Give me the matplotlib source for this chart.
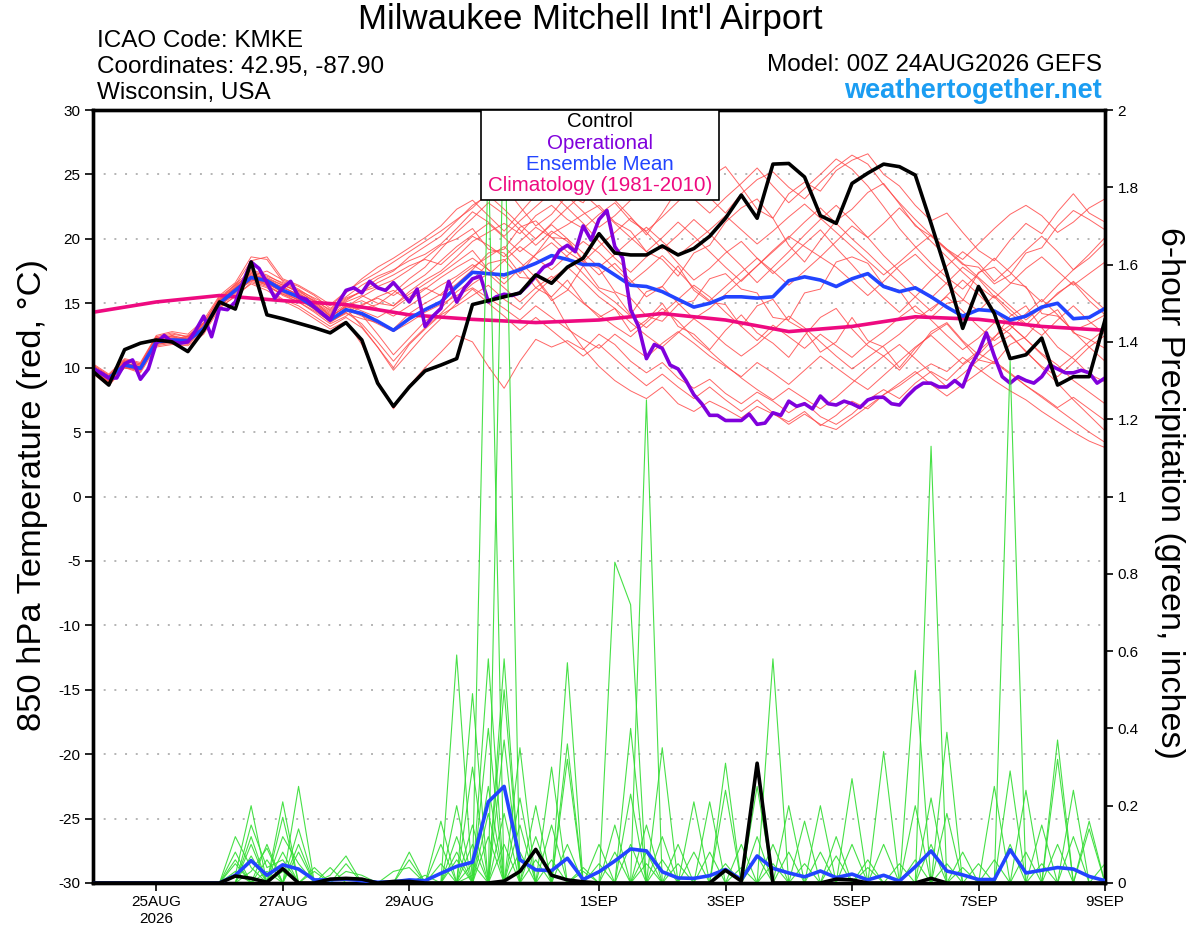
import numpy as np
import matplotlib
matplotlib.use('Agg')
import matplotlib.pyplot as plt
from matplotlib.patches import Rectangle

plt.rcParams['font.family'] = ['Liberation Sans', 'DejaVu Sans']

# 6-hourly steps from 00Z 24AUG2026 (65 values), operational run is 3-hourly (129 values)
control_temp = [9.7, 8.65, 11.4, 11.9, 12.15, 12.0, 11.25, 12.9, 15.1, 14.55,
                18.2, 14.1, 13.8, 13.45, 13.1, 12.7, 13.5, 12.15, 8.8, 7.0,
                8.5, 9.75, 10.2, 10.7, 14.9, 15.2, 15.5, 15.8, 17.2, 16.55,
                17.8, 18.5, 20.4, 18.9, 18.75, 18.75, 19.45, 18.75, 19.25, 20.2,
                21.6, 23.4, 21.6, 25.8, 25.85, 24.8, 21.8, 21.2, 24.3, 25.1,
                25.8, 25.6, 24.95, 21.2, 17.3, 13.05, 16.3, 14.2, 10.7, 11.0,
                12.3, 8.65, 9.3, 9.3, 13.7]

mean_temp = [9.95, 9.2, 10.2, 9.95, 12.0, 12.15, 12.1, 13.05, 15.0, 16.0,
             17.0, 16.75, 16.0, 15.5, 14.7, 13.7, 14.5, 14.2, 13.6, 12.9,
             13.8, 14.5, 15.1, 16.3, 17.4, 17.3, 17.2, 17.6, 18.1, 18.7,
             18.4, 18.0, 18.0, 17.2, 16.4, 16.3, 15.9, 15.3, 14.7, 15.0,
             15.5, 15.5, 15.4, 15.5, 16.75, 17.05, 16.8, 16.3, 16.9, 17.3,
             16.3, 15.9, 16.2, 15.5, 14.7, 14.0, 14.5, 14.4, 13.7, 14.0,
             14.7, 15.0, 13.8, 13.9, 14.6]

oper_temp = [9.9, 9.6, 9.2, 9.2, 10.3, 10.6, 9.1, 9.9, 11.9, 12.5,
             12.0, 11.9, 12.0, 12.9, 14.0, 12.4, 14.6, 14.5, 15.1, 16.7,
             18.2, 17.7, 16.6, 15.4, 16.2, 16.7, 15.5, 15.3, 14.7, 14.2,
             13.7, 15.0, 16.0, 16.2, 15.8, 16.7, 16.2, 16.0, 16.6, 15.9,
             15.1, 16.1, 13.2, 14.0, 14.6, 16.7, 15.1, 16.2, 16.9, 17.1,
             15.1, 15.5, 15.7, 15.6, 15.8, 16.4, 17.1, 17.8, 18.1, 19.1,
             19.5, 19.0, 21.0, 19.9, 21.5, 22.2, 19.4, 18.5, 14.5, 13.2,
             10.7, 11.8, 11.5, 10.2, 9.9, 9.0, 7.9, 7.2, 6.3, 6.3,
             5.9, 5.9, 5.9, 6.4, 5.6, 5.7, 6.5, 6.3, 7.4, 7.0,
             7.2, 6.8, 7.8, 7.2, 7.1, 7.4, 7.2, 6.9, 7.5, 7.7,
             7.7, 7.2, 7.1, 7.8, 8.4, 8.8, 8.8, 8.5, 8.5, 9.0,
             8.5, 10.1, 11.2, 12.7, 10.9, 9.3, 8.8, 9.3, 9.0, 8.8,
             9.3, 10.2, 9.9, 9.6, 9.6, 9.8, 9.6, 8.8, 9.2]

# daily 1981-2010 climatology, 24AUG .. 9SEP
clim_temp = [14.3, 15.1, 15.6, 15.2, 14.9, 14.1, 13.75, 13.5, 13.7,
             14.2, 13.7, 12.8, 13.2, 13.95, 13.75, 13.2, 12.9]

member_temp = [
    [9.8, 8.9, 10.5, 10.2, 12.3, 12.6, 12.4, 13.5, 15.4, 16.2, 17.6,
     17.2, 16.5, 15.8, 15.0, 14.2, 15.1, 15.6, 15.0, 14.8, 15.9, 16.8, 17.5, 18.6,
     19.8, 20.5, 21.2, 20.4, 21.8, 22.6, 21.5, 20.8, 21.9, 22.8, 21.4, 20.6, 21.7, 22.9, 24.1, 23.2, 22.0,
     23.5, 24.6, 25.2, 24.0, 23.1, 24.4, 25.6, 26.5, 25.8, 24.2, 22.8, 21.5, 20.3, 19.2, 18.4, 19.6, 20.8, 21.9, 22.6, 21.8, 20.5, 21.3, 22.4, 23.1],
    [9.6, 8.7, 10.0, 9.6, 11.6, 11.8, 11.7, 12.6, 14.6, 15.6, 16.5,
     16.0, 15.2, 14.6, 13.8, 13.0, 13.6, 11.8, 9.0, 6.8, 8.6, 10.0, 11.2, 12.5,
     12.0, 10.1, 8.4, 10.5, 12.2, 11.6, 12.1, 11.4, 12.6, 11.8, 10.5, 9.6, 10.4, 9.2, 8.4, 9.1, 8.0,
     7.2, 8.1, 7.4, 6.5, 7.3, 6.2, 5.6, 6.4, 7.5, 8.3, 7.6, 8.8, 9.7, 9.0, 10.2, 11.1, 10.4, 9.5, 8.6, 7.8, 6.9, 7.7, 6.8, 5.9],
    [10.1, 9.3, 10.4, 10.0, 12.2, 12.4, 12.0, 13.2, 15.2, 16.4, 17.3,
     16.9, 16.2, 15.7, 15.2, 14.0, 14.7, 14.6, 14.9, 15.8, 16.9, 17.8, 19.2, 20.5,
     21.6, 22.8, 21.9, 20.7, 19.5, 20.6, 19.8, 18.4, 17.2, 18.1, 16.8, 15.5, 16.3, 15.0, 13.8, 14.6, 15.7,
     16.8, 17.9, 19.1, 20.2, 19.4, 18.6, 19.8, 21.0, 20.1, 18.7, 17.5, 16.2, 15.4, 16.6, 17.8, 16.9, 15.5, 14.2, 13.3, 14.5, 15.8, 16.6, 15.2, 14.1],
    [9.9, 9.0, 10.1, 9.7, 11.8, 12.0, 12.2, 13.0, 14.8, 15.8, 16.8,
     16.6, 16.1, 15.4, 14.5, 13.6, 14.2, 13.8, 13.5, 13.0, 14.2, 15.0, 15.7, 16.9,
     17.8, 18.6, 19.4, 18.2, 17.0, 15.4, 13.2, 11.5, 10.1, 9.0, 8.2, 7.6, 8.5, 7.2, 6.6, 7.4, 6.8,
     6.1, 7.0, 6.4, 5.8, 6.6, 5.5, 6.3, 7.4, 6.8, 7.9, 8.6, 9.5, 10.3, 9.7, 10.8, 9.9, 9.0, 8.2, 7.5, 6.6, 5.8, 5.0, 4.3, 3.8],
    [10.2, 9.4, 10.6, 10.3, 12.4, 12.1, 12.5, 13.4, 15.1, 15.9, 17.1,
     17.5, 16.8, 16.3, 15.6, 14.6, 15.5, 16.4, 17.1, 17.6, 18.3, 18.8, 19.6, 20.8,
     22.1, 21.3, 20.2, 21.4, 22.5, 23.6, 22.4, 21.2, 19.8, 18.5, 17.4, 18.6, 19.5, 18.1, 16.8, 17.7, 18.9,
     19.8, 18.5, 17.3, 18.4, 19.6, 20.7, 19.3, 18.0, 16.6, 15.4, 14.3, 15.5, 16.8, 17.9, 19.0, 18.1, 16.7, 17.8, 19.1, 20.2, 19.0, 17.6, 18.5, 19.7],
    [9.7, 8.8, 10.3, 10.1, 11.9, 12.5, 11.9, 12.9, 15.3, 16.1, 16.9,
     16.4, 15.6, 15.1, 14.3, 13.4, 14.0, 14.8, 15.5, 16.0, 15.2, 16.1, 17.0, 17.8,
     18.5, 17.6, 16.5, 17.7, 18.8, 19.7, 18.6, 17.3, 16.0, 15.1, 14.0, 13.1, 14.2, 15.3, 16.4, 15.5, 14.3,
     13.2, 12.1, 13.3, 12.4, 11.5, 12.6, 11.7, 10.8, 11.9, 12.8, 13.9, 14.8, 13.7, 12.5, 11.4, 12.3, 13.5, 12.6, 11.2, 10.1, 9.3, 10.4, 11.6, 12.5],
    [10.0, 9.1, 10.2, 9.9, 12.1, 12.3, 12.2, 13.3, 15.0, 16.3, 17.4,
     17.0, 16.4, 16.0, 15.4, 14.8, 15.8, 16.9, 17.8, 18.5, 19.3, 20.1, 21.0, 22.3,
     23.0, 21.8, 20.6, 22.0, 23.4, 24.5, 23.3, 22.1, 20.9, 21.8, 23.0, 24.2, 25.3, 24.4, 23.1, 22.0, 23.2,
     24.3, 25.5, 24.1, 22.8, 23.9, 25.0, 26.2, 25.4, 24.1, 22.5, 20.8, 19.4, 18.1, 17.0, 16.1, 17.3, 18.5, 17.4, 16.2, 15.1, 16.4, 17.6, 18.8, 20.1],
    [9.5, 8.6, 10.0, 9.8, 11.7, 11.9, 11.8, 12.8, 14.7, 15.5, 16.6,
     16.2, 15.3, 14.8, 14.0, 13.2, 13.9, 13.1, 11.6, 10.0, 11.8, 13.0, 14.1, 14.8,
     15.6, 16.4, 15.3, 14.5, 15.8, 16.9, 17.8, 16.7, 15.5, 14.6, 13.5, 12.5, 11.6, 12.7, 13.8, 12.9, 11.8,
     10.9, 11.8, 12.9, 14.0, 13.1, 12.0, 10.9, 9.9, 10.8, 11.7, 12.6, 13.7, 14.6, 15.5, 14.4, 13.2, 12.1, 13.0, 14.2, 15.3, 14.1, 12.8, 11.6, 10.5],
    [10.3, 9.5, 10.7, 10.4, 12.5, 12.8, 12.6, 13.7, 15.6, 16.6, 18.6,
     18.4, 16.7, 16.1, 15.3, 14.4, 15.3, 15.9, 16.6, 17.2, 17.9, 18.4, 18.0, 19.1,
     20.2, 19.5, 18.6, 19.8, 20.9, 20.1, 19.0, 18.2, 19.4, 20.5, 21.6, 20.5, 19.2, 20.3, 21.5, 20.4, 19.1,
     17.9, 16.6, 17.8, 19.0, 20.3, 21.5, 22.6, 21.4, 20.1, 21.2, 22.4, 21.1, 19.8, 18.6, 17.4, 16.3, 15.4, 16.5, 17.7, 18.6, 17.5, 16.4, 17.3, 18.2],
    [9.8, 8.9, 10.2, 10.0, 12.0, 12.1, 12.3, 13.1, 14.9, 16.0, 16.9,
     16.5, 15.9, 15.2, 14.6, 13.8, 14.5, 14.0, 13.4, 12.8, 13.5, 14.3, 14.9, 15.6,
     16.2, 15.4, 14.6, 13.7, 14.8, 13.9, 13.0, 12.2, 11.5, 12.6, 11.7, 10.8, 11.9, 12.8, 11.9, 10.9, 10.1,
     9.3, 10.4, 9.6, 8.7, 9.8, 10.9, 10.0, 9.1, 8.3, 9.4, 10.5, 11.6, 12.5, 11.4, 10.3, 11.3, 12.4, 13.3, 12.2, 11.1, 10.2, 9.0, 8.1, 7.2],
    [10.0, 9.2, 10.3, 10.1, 12.2, 12.2, 12.1, 13.0, 15.1, 16.1, 17.2,
     16.8, 16.0, 15.5, 14.8, 13.9, 14.8, 15.2, 14.6, 14.0, 14.8, 15.6, 16.4, 17.1,
     18.0, 17.2, 18.3, 19.4, 18.5, 17.6, 18.7, 19.8, 18.9, 17.7, 16.6, 17.6, 18.7, 17.5, 16.2, 15.2, 16.3,
     17.4, 18.5, 17.5, 16.4, 17.5, 18.6, 17.8, 16.7, 15.6, 16.7, 17.9, 18.8, 17.6, 16.5, 15.3, 14.4, 15.6, 14.5, 13.4, 12.5, 13.7, 14.8, 13.6, 12.6],
    [9.6, 8.8, 10.1, 9.9, 11.9, 12.2, 11.9, 13.1, 14.9, 15.9, 16.7,
     16.3, 15.7, 15.3, 14.6, 13.5, 14.3, 13.4, 12.0, 10.5, 11.9, 13.1, 14.2, 15.4,
     16.5, 17.3, 16.2, 15.1, 16.2, 17.1, 16.1, 15.0, 14.1, 13.2, 12.4, 13.5, 14.6, 13.6, 12.3, 11.3, 10.2,
     9.2, 8.3, 7.5, 8.4, 7.6, 6.8, 7.7, 8.8, 9.9, 10.9, 11.8, 10.7, 9.6, 8.5, 9.5, 10.6, 11.7, 12.5, 11.3, 10.0, 8.8, 7.5, 6.3, 5.1],
    [10.1, 9.3, 10.5, 10.2, 12.3, 12.4, 12.3, 13.4, 15.3, 16.5, 17.5,
     17.1, 16.6, 16.0, 15.1, 14.3, 15.2, 16.0, 16.9, 17.5, 18.6, 19.4, 20.2, 21.4,
     22.6, 23.4, 22.3, 21.1, 20.0, 21.2, 22.4, 23.5, 22.4, 21.2, 20.1, 19.0, 20.1, 21.3, 20.2, 19.0, 17.8,
     16.7, 17.9, 19.0, 20.1, 21.3, 22.4, 21.2, 20.0, 18.9, 17.7, 16.6, 15.5, 14.4, 15.6, 16.8, 15.7, 14.4, 13.3, 12.2, 11.0, 9.9, 10.9, 12.0, 13.0],
    [9.9, 9.1, 10.0, 9.8, 11.8, 12.0, 12.1, 12.9, 14.8, 15.7, 16.9,
     16.7, 16.3, 15.6, 14.9, 14.1, 14.9, 14.4, 13.9, 14.6, 15.5, 16.2, 15.6, 16.5,
     17.6, 18.9, 19.2, 20.9, 21.4, 20.1, 20.0, 18.2, 17.7, 15.9, 15.4, 14.0, 13.6, 14.9, 15.2, 16.9, 17.3,
     16.1, 15.8, 13.9, 13.7, 15.8, 16.1, 18.2, 18.6, 18.1, 16.4, 16.0, 14.3, 13.9, 15.0, 15.2, 17.4, 17.8, 16.6, 16.3, 14.2, 14.0, 12.9, 13.4, 14.1],
    [10.2, 9.4, 10.4, 10.0, 12.1, 12.0, 12.4, 13.2, 15.2, 16.0, 17.0,
     16.6, 15.8, 15.3, 14.7, 13.7, 14.6, 13.2, 11.6, 9.8, 11.2, 12.6, 13.8, 15.0,
     16.1, 15.0, 14.0, 12.9, 13.9, 12.9, 11.9, 10.9, 11.8, 10.7, 9.6, 8.6, 9.5, 8.5, 7.6, 8.5, 7.5,
     6.6, 7.5, 6.5, 5.6, 6.4, 5.6, 5.2, 6.1, 7.0, 7.9, 8.8, 9.7, 8.7, 7.8, 8.7, 9.6, 10.5, 9.6, 8.6, 7.7, 6.8, 5.9, 5.0, 4.2],
    [9.7, 8.9, 10.3, 10.0, 12.1, 12.3, 12.0, 13.2, 15.1, 16.2, 17.1,
     16.9, 16.4, 15.9, 15.2, 14.5, 15.4, 15.9, 16.3, 16.8, 17.6, 18.5, 19.5, 20.0,
     20.8, 19.2, 18.9, 17.3, 18.8, 20.4, 21.1, 21.9, 22.6, 21.3, 20.6, 19.0, 18.4, 17.1, 18.9, 19.5, 21.3,
     22.4, 23.1, 21.6, 19.5, 18.2, 19.9, 21.4, 22.3, 23.6, 24.3, 22.7, 21.0, 20.2, 19.1, 18.0, 17.8, 16.5, 17.2, 18.9, 19.3, 21.0, 22.2, 21.5, 20.7],
    [10.0, 9.0, 10.2, 10.1, 12.0, 12.2, 12.2, 13.0, 15.0, 16.0, 16.9,
     16.5, 15.9, 15.4, 14.7, 13.9, 14.8, 14.1, 12.6, 11.0, 12.3, 13.6, 14.6, 15.9,
     16.8, 18.1, 18.4, 17.0, 16.9, 15.2, 16.0, 17.9, 16.2, 15.8, 14.1, 15.9, 16.3, 17.9, 16.0, 15.1, 14.9,
     13.2, 14.8, 15.3, 13.6, 12.9, 11.2, 12.0, 13.9, 12.1, 11.6, 10.0, 11.5, 12.6, 13.4, 12.0, 10.6, 10.3, 11.8, 12.4, 13.8, 14.5, 12.7, 12.2, 11.5],
    [9.9, 9.2, 10.3, 9.9, 12.2, 12.5, 12.2, 13.3, 15.2, 16.1, 17.3,
     16.8, 16.2, 15.7, 14.9, 14.0, 14.7, 15.5, 16.2, 15.6, 16.4, 17.2, 18.3, 19.4,
     20.3, 21.2, 20.1, 19.0, 20.0, 21.1, 20.0, 18.9, 17.8, 18.8, 19.9, 20.9, 19.8, 18.7, 19.7, 20.7, 21.8,
     20.7, 19.6, 20.6, 21.7, 22.7, 21.6, 20.5, 19.4, 18.3, 17.2, 18.2, 19.3, 20.3, 19.2, 18.1, 17.0, 15.9, 14.8, 13.7, 14.7, 15.7, 16.7, 15.6, 14.5],
    [9.8, 9.0, 10.1, 9.8, 11.9, 12.1, 12.0, 13.0, 14.9, 15.9, 16.8,
     16.4, 15.7, 15.1, 14.4, 13.6, 14.3, 14.9, 15.4, 14.8, 15.7, 16.5, 17.3, 18.2,
     19.1, 17.6, 16.9, 17.8, 16.2, 15.5, 16.8, 15.1, 13.9, 14.6, 12.8, 13.7, 15.0, 13.2, 12.6, 11.4, 12.9,
     14.1, 12.7, 11.9, 10.8, 12.5, 13.9, 14.6, 13.0, 11.7, 10.9, 9.8, 11.2, 12.8, 13.5, 12.1, 11.0, 12.3, 14.0, 14.8, 13.1, 11.6, 10.7, 9.5, 8.9],
    [10.1, 9.3, 10.6, 10.3, 12.4, 12.7, 12.4, 13.5, 15.5, 16.4, 18.3,
     18.6, 16.9, 16.4, 15.7, 14.9, 15.9, 16.7, 17.4, 18.2, 19.0, 19.8, 20.6, 21.5,
     22.4, 23.6, 24.1, 22.5, 21.0, 21.9, 23.4, 22.8, 24.6, 23.0, 21.7, 20.3, 22.0, 23.9, 23.1, 24.8, 25.6,
     24.0, 22.3, 21.6, 23.5, 24.4, 23.7, 25.3, 26.1, 26.6, 25.0, 24.1, 22.6, 21.4, 22.0, 20.5, 19.1, 18.3, 19.9, 21.2, 20.4, 22.1, 23.5, 22.0, 21.3],
]

control_precip = [0, 0, 0, 0, 0, 0, 0, 0, 0, 0.018,
                  0.012, 0.002, 0.037, 0, 0, 0.01, 0.012, 0.01, 0, 0.004,
                  0.004, 0, 0, 0, 0, 0, 0.005, 0.03, 0.087, 0.02,
                  0.008, 0.003, 0, 0, 0, 0, 0, 0, 0, 0,
                  0.033, 0.005, 0.31, 0, 0, 0, 0, 0.01, 0.008, 0,
                  0, 0, 0, 0.012, 0, 0, 0, 0, 0, 0,
                  0, 0, 0, 0, 0]

mean_precip = [0, 0, 0, 0, 0, 0, 0, 0, 0, 0.02,
               0.058, 0.02, 0.047, 0.036, 0.008, 0.008, 0.01, 0.006, 0.002, 0.003,
               0.008, 0.006, 0.025, 0.043, 0.054, 0.21, 0.25, 0.06, 0.034, 0.032,
               0.064, 0.009, 0.029, 0.057, 0.088, 0.083, 0.029, 0.013, 0.012, 0.019,
               0.035, 0.009, 0.07, 0.038, 0.026, 0.016, 0.031, 0.014, 0.023, 0.008,
               0.02, 0.005, 0.042, 0.083, 0.031, 0.021, 0.009, 0.009, 0.086, 0.026,
               0.033, 0.04, 0.036, 0.017, 0.006]

# one row per 6-hour step, 20 members per row
member_precip = [
    [0, 0, 0, 0, 0, 0, 0, 0, 0, 0, 0, 0, 0, 0, 0, 0, 0, 0, 0, 0],
    [0, 0, 0, 0, 0, 0, 0, 0, 0, 0, 0, 0, 0, 0, 0, 0, 0, 0, 0, 0],
    [0, 0, 0, 0, 0, 0, 0, 0, 0, 0, 0, 0, 0, 0, 0, 0, 0, 0, 0, 0],
    [0, 0, 0, 0, 0, 0, 0, 0, 0, 0, 0, 0, 0, 0, 0, 0, 0, 0, 0, 0],
    [0, 0, 0, 0, 0, 0, 0, 0, 0, 0, 0, 0, 0, 0, 0, 0, 0, 0, 0, 0],
    [0, 0, 0, 0, 0, 0, 0, 0, 0, 0, 0, 0, 0, 0, 0, 0, 0, 0, 0, 0],
    [0, 0, 0, 0, 0, 0, 0, 0, 0, 0, 0, 0, 0, 0, 0, 0, 0, 0, 0, 0],
    [0, 0, 0, 0, 0, 0, 0, 0, 0, 0, 0, 0, 0, 0, 0, 0, 0, 0, 0, 0],
    [0, 0, 0, 0, 0, 0, 0, 0, 0, 0, 0, 0, 0, 0, 0, 0, 0, 0, 0, 0],
    [0.02, 0, 0.12, 0.08, 0.05, 0.03, 0.06, 0, 0, 0, 0, 0, 0, 0, 0, 0, 0, 0, 0, 0],
    [0.20, 0.15, 0.04, 0, 0, 0, 0, 0.10, 0.07, 0.12, 0.03, 0, 0, 0, 0, 0, 0, 0, 0, 0],
    [0, 0.04, 0, 0.10, 0.06, 0.03, 0, 0, 0, 0, 0.09, 0, 0, 0, 0, 0, 0, 0, 0, 0],
    [0, 0.06, 0, 0, 0, 0, 0.21, 0.17, 0.08, 0, 0, 0.12, 0.03, 0, 0, 0, 0, 0, 0, 0],
    [0, 0, 0.14, 0.08, 0, 0, 0, 0, 0, 0.25, 0.10, 0.05, 0, 0, 0, 0, 0, 0, 0, 0],
    [0.03, 0, 0, 0, 0, 0, 0, 0, 0, 0, 0, 0, 0.04, 0, 0, 0, 0, 0, 0, 0],
    [0, 0, 0, 0, 0.04, 0, 0, 0, 0, 0, 0, 0, 0, 0.02, 0, 0, 0, 0, 0, 0],
    [0, 0, 0, 0, 0, 0.05, 0, 0, 0, 0, 0, 0, 0, 0.07, 0.03, 0, 0, 0, 0, 0],
    [0, 0, 0, 0, 0, 0, 0, 0, 0, 0, 0, 0, 0, 0, 0.02, 0, 0, 0, 0, 0],
    [0, 0, 0, 0, 0, 0, 0, 0, 0, 0, 0, 0, 0, 0, 0, 0, 0, 0, 0, 0],
    [0, 0, 0, 0, 0, 0, 0, 0, 0, 0, 0, 0, 0, 0, 0, 0.03, 0, 0, 0, 0],
    [0, 0, 0, 0, 0, 0, 0, 0, 0, 0, 0, 0, 0, 0, 0, 0.04, 0.08, 0.06, 0, 0],
    [0, 0, 0, 0, 0, 0, 0, 0, 0, 0, 0, 0, 0, 0, 0, 0, 0, 0, 0.02, 0],
    [0.10, 0.05, 0, 0, 0, 0, 0, 0, 0, 0, 0, 0, 0, 0, 0, 0, 0, 0, 0, 0.16],
    [0, 0, 0.59, 0.20, 0.12, 0.08, 0.06, 0, 0, 0, 0, 0, 0, 0, 0, 0, 0, 0, 0, 0],
    [0, 0, 0, 0, 0, 0, 0, 0.49, 0.30, 0.15, 0.10, 0.05, 0.02, 0, 0, 0, 0, 0, 0, 0],
    [0.12, 0, 0, 0, 0, 0, 0, 0, 0, 0, 0, 0, 1.90, 0.58, 0.40, 0.25, 0.18, 0, 0, 0],
    [0, 0.37, 0.18, 0.10, 0, 0, 0, 0, 0, 0, 0, 0, 0, 0, 0, 0, 0, 2.05, 0.58, 0.50],
    [0, 0, 0, 0, 0.35, 0.22, 0.15, 0.08, 0, 0, 0, 0, 0, 0, 0, 0, 0, 0, 0, 0],
    [0, 0, 0, 0, 0, 0, 0, 0, 0.20, 0.12, 0.06, 0, 0, 0, 0, 0, 0, 0, 0, 0],
    [0, 0, 0, 0, 0, 0, 0, 0, 0, 0, 0, 0.30, 0, 0.15, 0.06, 0, 0, 0, 0, 0],
    [0, 0, 0, 0, 0, 0, 0, 0, 0, 0, 0, 0, 0, 0, 0, 0.57, 0.36, 0, 0.32, 0.10],
    [0.04, 0, 0, 0, 0, 0, 0, 0, 0, 0, 0, 0, 0, 0, 0, 0, 0, 0.03, 0, 0],
    [0, 0.10, 0.05, 0, 0, 0, 0, 0, 0, 0, 0, 0, 0, 0, 0, 0, 0, 0, 0, 0],
    [0, 0, 0, 0.83, 0.15, 0.08, 0, 0, 0, 0, 0, 0, 0, 0, 0, 0, 0, 0, 0, 0],
    [0, 0, 0, 0.72, 0, 0, 0.40, 0.23, 0.10, 0, 0, 0, 0, 0, 0, 0, 0, 0, 0, 0],
    [0, 0, 0, 0, 0, 0, 0, 0, 0, 1.25, 0.15, 0.08, 0.05, 0, 0, 0, 0, 0, 0, 0],
    [0, 0, 0, 0, 0, 0, 0, 0, 0, 0, 0, 0, 0, 0.35, 0.12, 0.06, 0, 0, 0, 0],
    [0, 0, 0, 0, 0, 0, 0, 0, 0, 0, 0, 0, 0, 0, 0, 0, 0.10, 0.05, 0, 0],
    [0, 0, 0, 0, 0, 0, 0, 0, 0, 0, 0, 0, 0, 0, 0, 0, 0, 0, 0.21, 0.08],
    [0.21, 0.08, 0, 0, 0, 0, 0, 0, 0, 0, 0, 0, 0, 0, 0, 0, 0, 0, 0, 0],
    [0, 0, 0.31, 0.24, 0.05, 0, 0, 0, 0, 0, 0, 0, 0, 0, 0, 0, 0, 0, 0, 0],
    [0, 0, 0, 0, 0, 0.10, 0.04, 0, 0, 0, 0, 0, 0, 0, 0, 0, 0, 0, 0, 0],
    [0, 0, 0, 0, 0, 0, 0, 0.25, 0.12, 0.07, 0, 0, 0, 0, 0, 0, 0, 0, 0, 0],
    [0, 0, 0, 0, 0, 0, 0, 0, 0, 0, 0.58, 0.10, 0.05, 0, 0, 0, 0, 0, 0, 0],
    [0, 0, 0, 0, 0, 0, 0, 0, 0, 0, 0, 0, 0, 0.20, 0.08, 0, 0, 0, 0, 0],
    [0, 0, 0, 0, 0, 0, 0, 0, 0, 0, 0, 0, 0, 0, 0, 0.16, 0.05, 0, 0, 0],
    [0, 0, 0, 0, 0, 0, 0, 0, 0, 0, 0, 0, 0, 0, 0, 0, 0, 0.20, 0.08, 0],
    [0.07, 0, 0, 0, 0, 0, 0, 0, 0, 0, 0, 0, 0, 0, 0, 0, 0, 0, 0, 0.12],
    [0, 0.27, 0.10, 0, 0, 0, 0, 0, 0, 0, 0, 0, 0, 0, 0, 0, 0, 0, 0, 0],
    [0, 0, 0, 0.06, 0.04, 0, 0, 0, 0, 0, 0, 0, 0, 0, 0, 0, 0, 0, 0, 0],
    [0, 0, 0, 0, 0, 0.34, 0.10, 0, 0, 0, 0, 0, 0, 0, 0, 0, 0, 0, 0, 0],
    [0, 0, 0, 0, 0, 0, 0, 0.05, 0, 0, 0, 0, 0, 0, 0, 0, 0, 0, 0, 0],
    [0, 0, 0, 0, 0, 0, 0, 0, 0.55, 0.20, 0.06, 0, 0, 0, 0, 0, 0, 0, 0, 0],
    [0, 0, 0, 0, 0, 0, 0, 0, 0, 0, 0, 1.13, 0.22, 0.10, 0, 0, 0, 0, 0, 0],
    [0, 0, 0, 0, 0, 0, 0, 0, 0, 0, 0, 0, 0, 0, 0.39, 0.18, 0.05, 0, 0, 0],
    [0, 0, 0, 0, 0, 0, 0, 0, 0, 0, 0, 0, 0, 0, 0, 0, 0, 0.08, 0.04, 0],
    [0, 0, 0, 0, 0, 0, 0, 0, 0, 0, 0, 0, 0, 0, 0, 0, 0, 0, 0, 0.05],
    [0.25, 0.06, 0, 0, 0, 0, 0, 0, 0, 0, 0, 0, 0, 0, 0, 0, 0, 0, 0, 0],
    [0, 0, 1.35, 0.29, 0.10, 0, 0, 0, 0, 0, 0, 0, 0, 0, 0, 0, 0, 0, 0, 0],
    [0, 0, 0, 0, 0, 0.24, 0.08, 0, 0, 0, 0, 0, 0, 0, 0, 0, 0, 0, 0, 0],
    [0, 0, 0, 0, 0, 0, 0, 0.15, 0.05, 0, 0, 0, 0, 0, 0, 0, 0, 0, 0, 0],
    [0, 0, 0, 0, 0, 0, 0, 0, 0, 0.37, 0.32, 0.10, 0, 0, 0, 0, 0, 0, 0, 0],
    [0, 0, 0, 0, 0, 0, 0, 0, 0, 0, 0, 0, 0.24, 0.12, 0, 0, 0, 0, 0, 0],
    [0, 0, 0, 0, 0, 0, 0, 0, 0, 0, 0, 0, 0, 0, 0.16, 0.14, 0, 0, 0, 0],
    [0, 0, 0, 0, 0, 0, 0, 0, 0, 0, 0, 0, 0, 0, 0, 0, 0.05, 0, 0, 0],
]

tick_days = [1, 3, 5, 8, 10, 12, 14, 16]
tick_labels = ['25AUG\n2026', '27AUG', '29AUG', '1SEP', '3SEP', '5SEP', '7SEP', '9SEP']

RED = '#ff4a4a'
GREEN = '#33dd33'
BLACK = '#000000'
PURPLE = '#8000dc'
BLUE = '#2244ff'
PINK = '#ee0a80'

t6 = np.arange(len(control_temp)) * 0.25
t3 = np.arange(len(oper_temp)) * 0.125
t24 = np.arange(len(clim_temp)) * 1.0

fig = plt.figure(figsize=(12, 9.27), dpi=100)
ax = fig.add_axes([93 / 1200, 1 - 883 / 927, 1012 / 1200, 773 / 927])
ax2 = ax.twinx()

for v in range(-25, 30, 5):
    ax.axhline(v, color='#b4b4b4', lw=1.4, ls=(0, (1, 4.5)), zorder=0.5)

for m in member_temp:
    ax.plot(t6, m, color=RED, lw=0.7, alpha=0.85, zorder=1)
ax.plot(t24, clim_temp, color=PINK, lw=2.6, zorder=3)
ax.plot(t6, mean_temp, color=BLUE, lw=2.6, zorder=4)
ax.plot(t3, oper_temp, color=PURPLE, lw=2.6, zorder=5)
ax.plot(t6, control_temp, color=BLACK, lw=2.6, zorder=6)

precip = np.array(member_precip)
for k in range(precip.shape[1]):
    ax2.plot(t6, precip[:, k], color=GREEN, lw=0.8, alpha=0.9, zorder=1)
ax2.plot(t6, mean_precip, color=BLUE, lw=2.6, zorder=3)
ax2.plot(t6, control_precip, color=BLACK, lw=2.6, zorder=4)

ax.set_xlim(0, 16)
ax.set_ylim(-30, 30)
ax2.set_ylim(0, 2)
ax.set_yticks(range(-30, 31, 5))
ax.set_yticklabels([str(v) for v in range(-30, 31, 5)])
pt = np.round(np.arange(0, 2.01, 0.2), 1)
ax2.set_yticks(pt)
ax2.set_yticklabels(['{:g}'.format(v) for v in pt])
ax.set_xticks(tick_days)
ax.set_xticklabels(tick_labels)

ax.tick_params(axis='both', direction='out', length=6, width=1.2, labelsize=11, pad=3)
ax2.tick_params(axis='y', direction='out', length=6, width=1.2, labelsize=11, pad=3)
for a in (ax, ax2):
    for s in a.spines.values():
        s.set_linewidth(2.4)

# legend box at top centre of the plot
ax2.add_patch(Rectangle((0.3834, 0.8836), 0.2352, 0.1164, transform=ax2.transAxes,
                        facecolor='white', edgecolor='black', lw=1.2, zorder=20, clip_on=False))
leg = [('Control', BLACK), ('Operational', PURPLE), ('Ensemble Mean', BLUE),
       ('Climatology (1981-2010)', PINK)]
for n, (txt, col) in enumerate(leg):
    ax2.text(0.501, 0.9845 - n * 0.0276, txt, color=col, fontsize=14.8, ha='center', va='center',
             transform=ax2.transAxes, zorder=21)

fig.text(0.4917, 0.9785, "Milwaukee Mitchell Int'l Airport", fontsize=25, ha='center', va='center')
fig.text(0.0808, 0.9555, 'ICAO Code: KMKE', fontsize=17.5, ha='left', va='center')
fig.text(0.0808, 0.9275, 'Coordinates: 42.95, -87.90', fontsize=17.5, ha='left', va='center')
fig.text(0.0808, 0.8995, 'Wisconsin, USA', fontsize=17.5, ha='left', va='center')
fig.text(0.9183, 0.930, 'Model: 00Z 24AUG2026 GEFS', fontsize=17.5, ha='right', va='center')
fig.text(0.9183, 0.9019, 'weathertogether.net', fontsize=19.5, fontweight='bold', color='#1b9df2',
         ha='right', va='center')
fig.text(0.027, 0.466, '850 hPa Temperature (red, \u00b0C)', fontsize=24.8, rotation=90,
         ha='center', va='center')
fig.text(0.975, 0.468, '6-hour Precipitation (green, inches)', fontsize=24.5, rotation=-90,
         ha='center', va='center')

fig.savefig('out.png', dpi=100)
